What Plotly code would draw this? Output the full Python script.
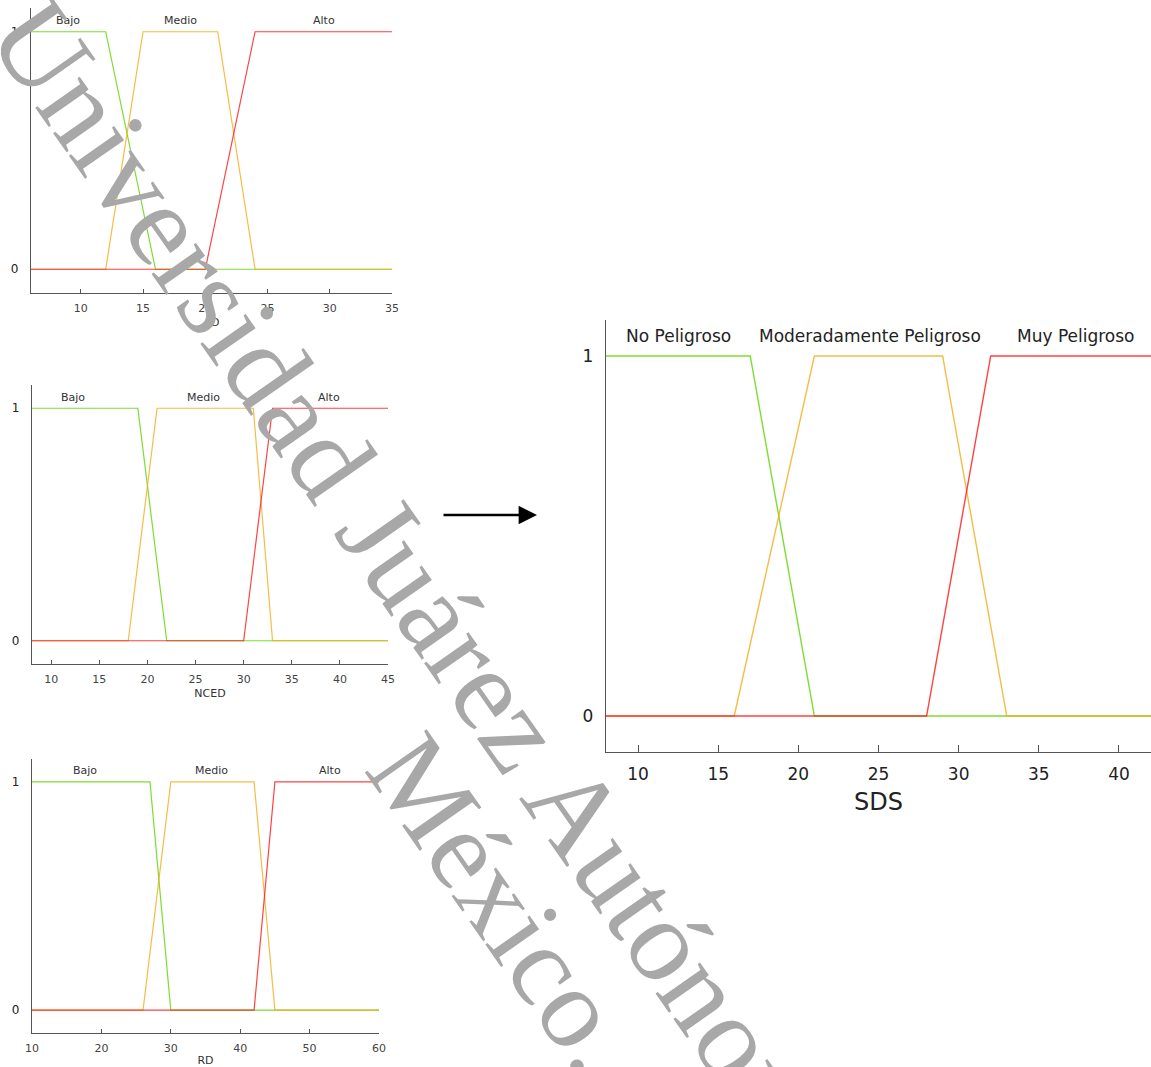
import plotly.graph_objects as go

# ---------------- data ----------------
AD_range = [6, 35]
AD_bajo_x = [6, 12, 16, 35];            AD_bajo_y = [1, 1, 0, 0]
AD_medio_x = [6, 12, 15, 21, 24, 35];   AD_medio_y = [0, 0, 1, 1, 0, 0]
AD_alto_x = [6, 20, 24, 35];            AD_alto_y = [0, 0, 1, 1]

NCED_range = [8, 45]
NCED_bajo_x = [8, 19, 22, 45];            NCED_bajo_y = [1, 1, 0, 0]
NCED_medio_x = [8, 18, 21, 31, 33, 45];   NCED_medio_y = [0, 0, 1, 1, 0, 0]
NCED_alto_x = [8, 30, 33, 45];            NCED_alto_y = [0, 0, 1, 1]

RD_range = [10, 60]
RD_bajo_x = [10, 27, 30, 60];            RD_bajo_y = [1, 1, 0, 0]
RD_medio_x = [10, 26, 30, 42, 45, 60];   RD_medio_y = [0, 0, 1, 1, 0, 0]
RD_alto_x = [10, 42, 45, 60];            RD_alto_y = [0, 0, 1, 1]

SDS_range = [8, 42]
SDS_no_x = [8, 17, 21, 42];              SDS_no_y = [1, 1, 0, 0]
SDS_mod_x = [8, 16, 21, 29, 33, 42];     SDS_mod_y = [0, 0, 1, 1, 0, 0]
SDS_muy_x = [8, 28, 32, 42];             SDS_muy_y = [0, 0, 1, 1]

input_terms = ["Bajo", "Medio", "Alto"]
output_terms = ["No Peligroso", "Moderadamente Peligroso", "Muy Peligroso"]
AD_label_x = [9, 18, 29.5]
NCED_label_x = [12.3, 25.8, 38.9]
RD_label_x = [17.6, 35.9, 52.9]
SDS_label_x = [12.5, 24.5, 37.3]

watermark_lines = ["Universidad Juárez Autónoma de Tabasco.", "México."]

# ---------------- style ----------------
W, H = 1151, 1067
GREEN, ORANGE, RED = "#5fd400", "#f2ad1a", "#ff1414"
FONT = "DejaVu Sans"


def px_x(p):
    return p / W


def px_y(p):
    return 1 - p / H


panels = [
    dict(name="AD", rng=AD_range, dtick=5,
         series=[(AD_bajo_x, AD_bajo_y), (AD_medio_x, AD_medio_y), (AD_alto_x, AD_alto_y)],
         labels=input_terms, lx=AD_label_x,
         xdom=[px_x(31), px_x(392)], ydom=[px_y(293), px_y(8)], big=False),
    dict(name="NCED", rng=NCED_range, dtick=5,
         series=[(NCED_bajo_x, NCED_bajo_y), (NCED_medio_x, NCED_medio_y), (NCED_alto_x, NCED_alto_y)],
         labels=input_terms, lx=NCED_label_x,
         xdom=[px_x(32), px_x(388)], ydom=[px_y(664), px_y(385)], big=False),
    dict(name="RD", rng=RD_range, dtick=10,
         series=[(RD_bajo_x, RD_bajo_y), (RD_medio_x, RD_medio_y), (RD_alto_x, RD_alto_y)],
         labels=input_terms, lx=RD_label_x,
         xdom=[px_x(32), px_x(379)], ydom=[px_y(1033), px_y(759)], big=False),
    dict(name="SDS", rng=SDS_range, dtick=5,
         series=[(SDS_no_x, SDS_no_y), (SDS_mod_x, SDS_mod_y), (SDS_muy_x, SDS_muy_y)],
         labels=output_terms, lx=SDS_label_x,
         xdom=[px_x(606), 1.0], ydom=[px_y(752), px_y(320)], big=True),
]

fig = go.Figure()
annotations = []
colors = [GREEN, ORANGE, RED]

for i, p in enumerate(panels, start=1):
    xa = "x" if i == 1 else f"x{i}"
    ya = "y" if i == 1 else f"y{i}"
    big = p["big"]
    for (xs, ys), c, nm in zip(p["series"], colors, p["labels"]):
        fig.add_trace(go.Scatter(x=xs, y=ys, mode="lines", name=nm,
                                 line=dict(color=c, width=1.4 if big else 1.2),
                                 opacity=0.8, xaxis=xa, yaxis=ya,
                                 hoverinfo="x+y+name"))
    for txt, lx in zip(p["labels"], p["lx"]):
        annotations.append(dict(x=lx, y=1, xref=xa, yref=ya, text=txt,
                                showarrow=False, yanchor="middle",
                                yshift=20 if big else 11,
                                font=dict(family=FONT, size=17 if big else 11,
                                          color="#222" if big else "#333")))
    tick_font = dict(family=FONT, size=17 if big else 11, color="#222" if big else "#444")
    xkey = "xaxis" if i == 1 else f"xaxis{i}"
    ykey = "yaxis" if i == 1 else f"yaxis{i}"
    fig.update_layout(**{
        xkey: dict(domain=p["xdom"], anchor=ya, range=p["rng"], tick0=0, dtick=p["dtick"],
                   showgrid=False, zeroline=False, showline=True, linecolor="#555",
                   linewidth=1.3, ticks="inside", ticklen=7 if big else 4,
                   tickcolor="#555", tickwidth=1, tickfont=tick_font,
                   ticklabelstandoff=6 if big else 5, automargin=False,
                   title=dict(text=p["name"], standoff=10 if big else 3,
                              font=dict(family=FONT, size=24 if big else 11,
                                        color="#222" if big else "#333"))),
        ykey: dict(domain=p["ydom"], anchor=xa, range=[-0.1, 1.1],
                   tickvals=[0, 1], ticktext=["0", "1"], automargin=False,
                   showgrid=False, zeroline=False, showline=True, linecolor="#555",
                   linewidth=1.3, ticks="", tickfont=dict(family=FONT, size=17 if big else 12,
                                                          color="#222"),
                   ticklabelstandoff=8 if big else 9),
    })

# arrow between inputs and output (tail offset in pixels)
annotations.append(dict(x=px_x(537), y=px_y(515), ax=-95, ay=0,
                        xref="paper", yref="paper",
                        showarrow=True, arrowhead=2, arrowsize=1.6, arrowwidth=2.3,
                        arrowcolor="#000", text=""))

# watermark
annotations.append(dict(x=px_x(594), y=px_y(836), xref="paper", yref="paper",
                        text=watermark_lines[0], textangle=55, showarrow=False,
                        xanchor="center", yanchor="middle",
                        font=dict(family="Liberation Serif", size=118, color="#a8a8a8")))
annotations.append(dict(x=px_x(504), y=px_y(903), xref="paper", yref="paper",
                        text=watermark_lines[1], textangle=55, showarrow=False,
                        xanchor="center", yanchor="middle",
                        font=dict(family="Liberation Serif", size=115, color="#a8a8a8")))

fig.update_layout(width=W, height=H, margin=dict(l=0, r=0, t=0, b=0),
                  paper_bgcolor="white", plot_bgcolor="white", showlegend=False,
                  annotations=annotations, font=dict(family=FONT))

fig.write_html("out.html")
